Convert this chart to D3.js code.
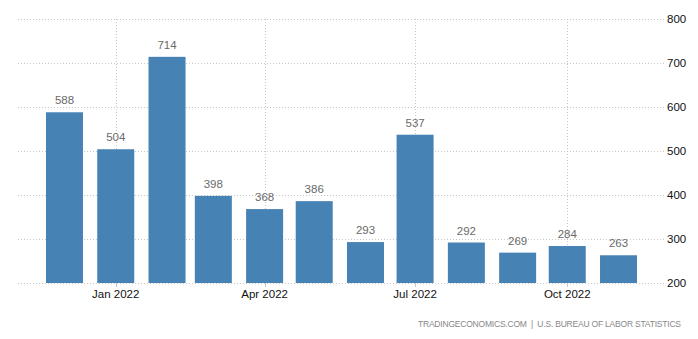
<!DOCTYPE html>
<html><head><meta charset="utf-8">
<script src="https://cdn.jsdelivr.net/npm/d3@7"></script>
<style>body{margin:0;background:#fff;} svg{display:block;}</style>
</head><body>
<svg id="c" width="698" height="339"></svg>
<script>
const months = ["2021-12","2022-01","2022-02","2022-03","2022-04","2022-05","2022-06","2022-07","2022-08","2022-09","2022-10","2022-11"];
const values = [588,504,714,398,368,386,293,537,292,269,284,263];
const yTicks = [200,300,400,500,600,700,800];
const xTickMonths = ["2022-01","2022-04","2022-07","2022-10"];
const xTickLabels = ["Jan 2022","Apr 2022","Jul 2022","Oct 2022"];
const source = "TRADINGECONOMICS.COM  |  U.S. BUREAU OF LABOR STATISTICS";

const parse = d3.timeParse("%Y-%m");
const dates = months.map(parse);
const svg = d3.select("#c");
const font = "'Liberation Sans', Arial, sans-serif";
const day = 864e5;
const x = d3.scaleTime()
  .domain([new Date(dates[0].getTime() - 28.1*day), new Date(dates[dates.length-1].getTime() + 28.1*day)])
  .range([18, 665]);
const y = d3.scaleLinear().domain([200, 800]).range([283, 19]);

// horizontal grid
svg.append("g").selectAll("line").data(yTicks).join("line")
  .attr("x1", 18).attr("x2", 665)
  .attr("y1", d => y(d)+0.5).attr("y2", d => y(d)+0.5)
  .attr("stroke", "#c8c8c8").attr("stroke-dasharray", "1,2");
// vertical grid
const tdates = xTickMonths.map(parse);
svg.append("g").selectAll("line").data(tdates).join("line")
  .attr("x1", d => Math.round(x(d))+0.5).attr("x2", d => Math.round(x(d))+0.5)
  .attr("y1", 19).attr("y2", 283)
  .attr("stroke", "#c8c8c8").attr("stroke-dasharray", "1,2");

// bars
const bw = 37;
svg.append("g").selectAll("rect").data(values).join("rect")
  .attr("x", (d,i) => x(dates[i]) - bw/2)
  .attr("y", d => y(d))
  .attr("width", bw)
  .attr("height", d => y(200) - y(d))
  .attr("fill", "#4682b4");

// value labels
svg.append("g").selectAll("text").data(values).join("text")
  .attr("x", (d,i) => x(dates[i]))
  .attr("y", d => y(d) - 8)
  .attr("text-anchor", "middle")
  .attr("font-family", font).attr("font-size", "11.5px")
  .attr("fill", "#6a6a6a")
  .text(d => d);

// x axis ticks
svg.append("g").selectAll("line").data(tdates).join("line")
  .attr("x1", d => Math.round(x(d))+0.5).attr("x2", d => Math.round(x(d))+0.5)
  .attr("y1", 283).attr("y2", 287)
  .attr("stroke", "#c8c8c8");
svg.append("g").selectAll("text").data(tdates).join("text")
  .attr("x", d => x(d)).attr("y", 298)
  .attr("text-anchor", "middle")
  .attr("font-family", font).attr("font-size", "11.5px")
  .attr("fill", "#111")
  .text((d,i) => xTickLabels[i]);

// y axis labels (right)
svg.append("g").selectAll("text").data(yTicks).join("text")
  .attr("x", 667).attr("y", d => y(d) + 4)
  .attr("font-family", font).attr("font-size", "11.5px")
  .attr("fill", "#111")
  .text(d => d);

// source
svg.append("text")
  .attr("x", 418).attr("y", 327)
  .attr("font-family", font).attr("font-size", "8.5px")
  .attr("textLength", 263).attr("lengthAdjust", "spacing")
  .attr("fill", "#888")
  .style("white-space", "pre")
  .text(source);
</script>
</body></html>
